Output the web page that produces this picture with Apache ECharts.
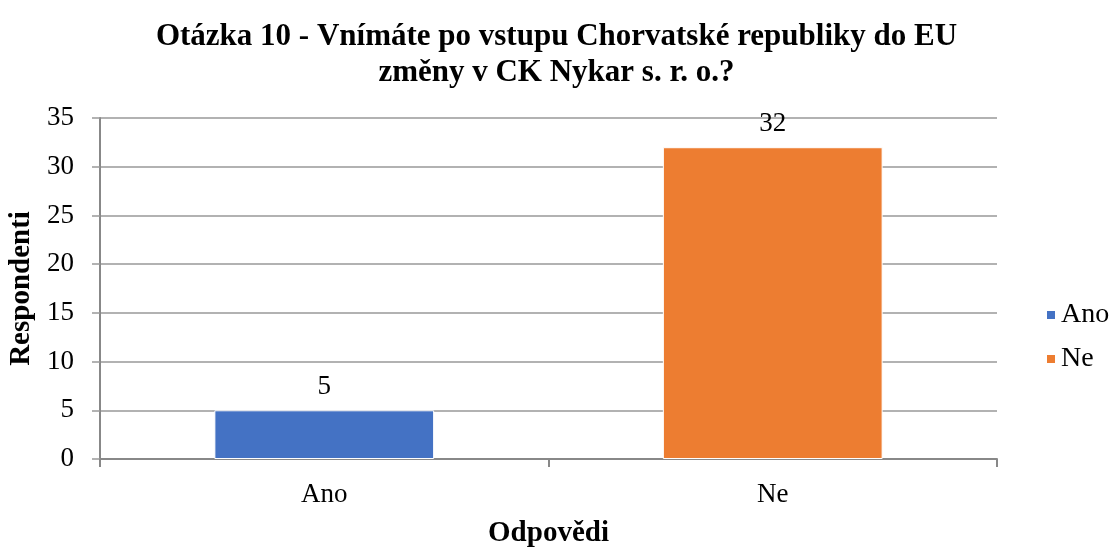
<!DOCTYPE html>
<html>
<head>
<meta charset="utf-8">
<script src="https://cdn.jsdelivr.net/npm/echarts@6/dist/echarts.min.js"></script>
<style>
  html, body { margin: 0; padding: 0; background: #fff; }
  #chart { width: 1113px; height: 547px; }
</style>
</head>
<body>
<div id="chart"></div>
<script>
const categories = ['Ano', 'Ne']
const anoValues = [5, '-']
const neValues = ['-', 32]
const yTicks = { min: 0, max: 35, interval: 5 }

const serif = '"Liberation Serif", "Times New Roman", serif'
const chart = echarts.init(document.getElementById('chart'))

const labelStyle = {
  show: true,
  position: 'top',
  distance: 10,
  color: '#000',
  fontFamily: serif,
  fontSize: 27
}

chart.setOption({
  backgroundColor: '#fff',
  animation: false,
  title: {
    text: 'Otázka 10 - Vnímáte po vstupu Chorvatské republiky do EU\nzměny v CK Nykar s. r. o.?',
    left: 'center',
    top: 14,
    textStyle: {
      fontFamily: serif,
      fontWeight: 'bold',
      fontSize: 31,
      lineHeight: 36,
      color: '#000'
    }
  },
  legend: {
    orient: 'vertical',
    left: 1040,
    top: 296,
    itemWidth: 10,
    itemHeight: 10,
    itemGap: 16,
    icon: 'rect',
    textStyle: { fontFamily: serif, fontSize: 28, color: '#000', padding: [0, 0, 0, 0] },
    data: ['Ano', 'Ne']
  },
  grid: { left: 100, right: 116, top: 118, bottom: 88, containLabel: false, outerBoundsMode: 'none' },
  xAxis: {
    type: 'category',
    data: categories,
    name: 'Odpovědi',
    nameLocation: 'middle',
    nameGap: 60,
    nameTextStyle: { fontFamily: serif, fontWeight: 'bold', fontSize: 29, color: '#000' },
    axisLine: { lineStyle: { color: '#888', width: 2 } },
    axisTick: { show: true, length: 8, lineStyle: { color: '#888', width: 2 } },
    axisLabel: { fontFamily: serif, fontSize: 27, color: '#000', margin: 22 }
  },
  yAxis: {
    type: 'value',
    min: yTicks.min,
    max: yTicks.max,
    interval: yTicks.interval,
    name: 'Respondenti',
    nameLocation: 'middle',
    nameGap: 64,
    nameTextStyle: { fontFamily: serif, fontWeight: 'bold', fontSize: 29, color: '#000' },
    axisLine: { show: true, lineStyle: { color: '#888', width: 2 } },
    axisTick: { show: true, length: 8, lineStyle: { color: '#999', width: 1.5 } },
    axisLabel: { fontFamily: serif, fontSize: 27, color: '#000', margin: 26 },
    splitLine: { lineStyle: { color: '#999', width: 1.5 } }
  },
  series: [
    {
      name: 'Ano',
      type: 'bar',
      stack: 'one',
      barWidth: '49%',
      data: anoValues,
      itemStyle: { color: '#4472C4', borderColor: '#fff', borderWidth: 1 },
      label: labelStyle
    },
    {
      name: 'Ne',
      type: 'bar',
      stack: 'one',
      barWidth: '49%',
      data: neValues,
      itemStyle: { color: '#ED7D31', borderColor: '#fff', borderWidth: 1 },
      label: labelStyle
    }
  ]
})
</script>
</body>
</html>
